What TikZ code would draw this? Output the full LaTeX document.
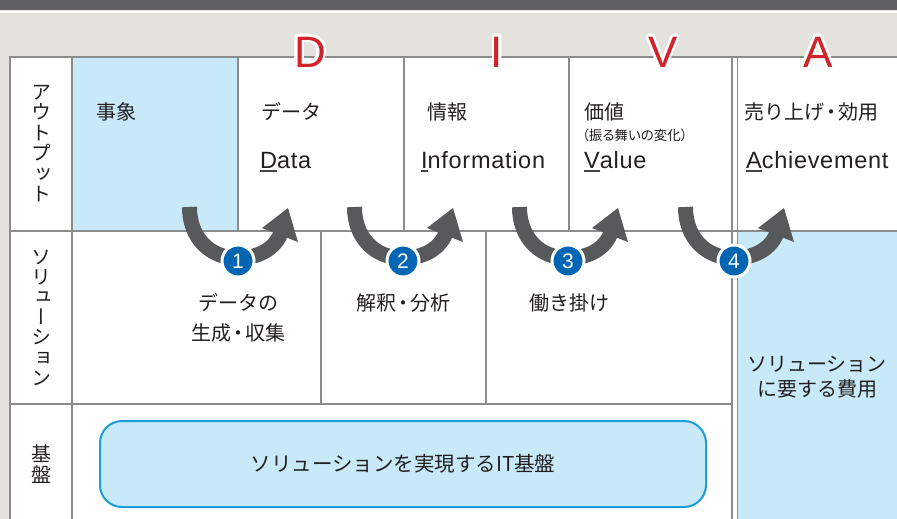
\documentclass[tikz,border=0pt]{standalone}
\usepackage{fontspec}
\setmainfont{Liberation Sans}
\newfontfamily\jp{Noto Sans CJK JP}
\newfontfamily\jpp[RawFeature=+palt]{Noto Sans CJK JP}
\newfontfamily\jpv[RawFeature=+vert]{Noto Sans CJK JP}
\newfontfamily\lat[LetterSpace=3]{Liberation Sans}
\usetikzlibrary{calc}
\definecolor{bandgray}{HTML}{616163}
\definecolor{beige}{HTML}{E4E2DC}
\definecolor{gridgray}{HTML}{8C8C8C}
\definecolor{lblue}{HTML}{C8E9F8}
\definecolor{rblue}{HTML}{1A9DD9}
\definecolor{divared}{HTML}{D2232A}
\definecolor{badgeblue}{HTML}{0066B3}
\definecolor{arrowgray}{HTML}{58595B}
\definecolor{txt}{HTML}{231F20}
\definecolor{ulgray}{HTML}{444444}
\newcommand\ulch[1]{\setbox0\hbox{#1}\rlap{\color{ulgray}\rule[-3.5pt]{\wd0}{1.6pt}}\box0}
\newcommand\nkg{\makebox[0.7em][c]{・}}
\newcommand\cyclearrow[2]{%
  \begin{scope}[shift={(#1,0)}]
    \draw[arrowgray, line width=15pt] (-48.5,207) .. controls (-48.5,238) and (-28,258) .. (0,258)
      .. controls (20,258) and (38,249) .. (43.5,231);
    \fill[arrowgray] (50,208) -- (24,228) -- (60,242) -- cycle;
    \node[badge] (badge#2) at (0,261) {#2};
  \end{scope}}
\newcommand\divaletter[3]{%
  \foreach \a in {0,30,...,330}
    \node[divafont, text=white, anchor=base] at ($(#1,67)+(\a:2.6)$) {#2};
  \node[divafont, text=divared, anchor=base] (#3) at (#1,67) {#2};}
\begin{document}
\begin{tikzpicture}[x=1pt, y=-1pt,
  grid/.style={draw=gridgray, line width=2pt},
  badge/.style={circle, fill=badgeblue, draw=white, line width=3pt, minimum size=32pt,
    inner sep=0pt, text=white, font=\fontsize{21}{21}\selectfont},
  divafont/.style={inner sep=0pt, font=\fontsize{44}{44}\selectfont},
  jtext/.style={inner sep=0pt, text=txt, font=\jp\fontsize{20}{20}\selectfont},
  ltext/.style={inner sep=0pt, text=txt, font=\lat\fontsize{23.5}{23.5}\selectfont, anchor=base west},
  vtext/.style={inner sep=0pt, text=txt, align=center}]
\useasboundingbox (0,0) rectangle (897,519);
% background
\fill[beige] (0,0) rectangle (897,519);
\fill[bandgray] (0,0) rectangle (897,10);
\fill[white] (0,11) rectangle (897,13.5);
\fill[white] (10,57) rectangle (897,519);
\fill[lblue] (72,57) rectangle (238,231);
\fill[lblue] (737.5,231) rectangle (897,519);
% grid
\draw[grid] (10,519) -- (10,57) -- (897,57);
\draw[grid] (72,57) -- (72,519);
\draw[grid] (10,231) -- (897,231);
\draw[grid] (10,404) -- (732,404);
\draw[grid] (238,57) -- (238,231);
\draw[grid] (404,57) -- (404,231);
\draw[grid] (569,57) -- (569,231);
\draw[grid] (321,231) -- (321,404);
\draw[grid] (486,231) -- (486,404);
\draw[grid] (732,57) -- (732,519);
\draw[grid, line width=1.6pt] (737.5,57) -- (737.5,519);
% DIVA letters
\divaletter{310}{D}{letD}
\divaletter{497}{I}{letI}
\divaletter{663}{V}{letV}
\divaletter{818}{A}{letA}
% row labels
\node[vtext, font=\jpv\fontsize{20}{20.5}\selectfont] (lblout) at (41,143.5) {ア\\ウ\\ト\\プ\\ッ\\ト};
\node[vtext, font=\jpv\fontsize{20}{20.2}\selectfont] (lblsol) at (41,317.5) {ソ\\リ\\ュ\\ー\\シ\\ョ\\ン};
\node[vtext, font=\jpv\fontsize{20}{21.5}\selectfont] (lblbase) at (41,464) {基\\盤};
% output row
\node[jtext, anchor=west] (jisho) at (96,112) {事象};
\node[jtext, anchor=west] (data) at (261,112) {データ};
\node[ltext] (dataen) at (260,168) {\ulch{D}ata};
\node[jtext, anchor=west] (joho) at (427,112) {情報};
\node[ltext] (infoen) at (421,168) {\ulch{I}nformation};
\node[jtext, anchor=west] (kachi) at (584,112) {価値};
\node[inner sep=0pt, text=txt, font=\jpp\fontsize{13.5}{13.5}\selectfont, anchor=west] (furumai) at (582,135) {（振る舞いの変化）};
\node[ltext] (valueen) at (584,168) {\ulch{V}alue};
\node[jtext, anchor=west] (uriage) at (744,112) {売り上げ\nkg 効用};
\node[ltext] (achen) at (746,168) {\ulch{A}chievement};
% arrows
\cyclearrow{238}{1}
\cyclearrow{403}{2}
\cyclearrow{568}{3}
\cyclearrow{734}{4}
% solution row
\node[jtext, align=center, font=\jp\fontsize{20}{30}\selectfont] (sol1) at (238,318) {データの\\生成\nkg 収集};
\node[jtext] (sol2) at (403,303) {解釈\nkg 分析};
\node[jtext] (sol3) at (569,303) {働き掛け};
\node[jtext, align=center, font=\jp\fontsize{20}{25}\selectfont] (sol4) at (817,377.5) {ソリューション\\に要する費用};
% base row
\node[draw=rblue, fill=lblue, line width=2pt, rounded corners=22pt, minimum width=606pt,
  minimum height=86pt, text=txt, font=\jp\fontsize{20.5}{20.5}\selectfont] (itbase) at (403,464)
  {ソリューションを実現するIT基盤};
\end{tikzpicture}
\end{document}
